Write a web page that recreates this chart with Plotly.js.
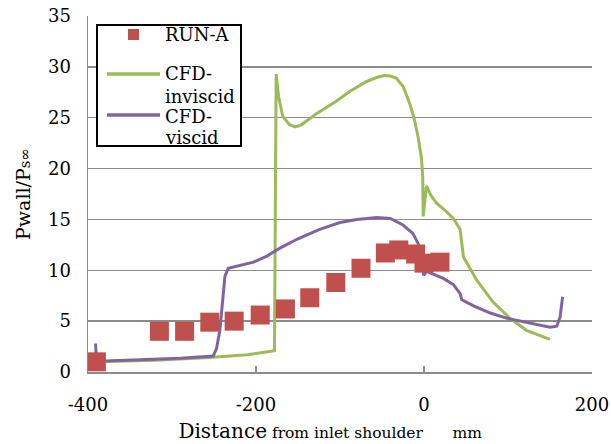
<!DOCTYPE html>
<html><head><meta charset="utf-8">
<script src="https://cdn.plot.ly/plotly-3.0.1.min.js"></script>
<style>html,body{margin:0;padding:0;background:#fff}</style>
</head><body><div id="chart" style="width:611px;height:444px"></div>
<script>
// RUN-A measured points
const runA_x = [-390, -315, -285, -255, -226, -195, -165, -136, -105, -75, -46, -30, -10, 0, 19];
const runA_y = [1.0, 4.0, 4.0, 4.9, 5.0, 5.6, 6.2, 7.3, 8.8, 10.2, 11.7, 12.0, 11.6, 10.7, 10.8];

// CFD inviscid
const inv_x = [-390, -320, -260, -210, -178, -176, -173, -168, -160, -153, -146, -128, -105, -88, -70, -55, -47, -40, -33, -25, -17, -12, -7, -3, -1.5, -1, 3, 8, 15, 25, 35, 43, 47, 55, 63, 82, 102, 122, 150];
const inv_y = [1.0, 1.15, 1.4, 1.7, 2.1, 29.3, 27.0, 25.1, 24.3, 24.1, 24.3, 25.4, 26.6, 27.6, 28.5, 29.0, 29.15, 29.1, 28.9, 28.1, 26.4, 25.0, 23.1, 21.0, 19.2, 15.3, 18.3, 17.4, 16.6, 15.9, 15.1, 14.0, 11.3, 10.2, 9.0, 6.9, 5.3, 4.1, 3.2];

// CFD viscid
const vis_x = [-391, -390, -379, -290, -251, -247, -243, -240, -237, -233, -219, -203, -187, -171, -150, -125, -100, -80, -56, -40, -25, -13, -5, -1.5, -0.5, 3, 23, 35, 43, 45, 59, 79, 98, 122, 150, 158, 162, 165];
const vis_y = [2.8, 1.1, 1.08, 1.35, 1.57, 2.3, 4.1, 6.75, 9.4, 10.2, 10.45, 10.8, 11.4, 12.2, 13.1, 14.0, 14.7, 15.0, 15.2, 15.1, 14.45, 13.6, 12.3, 11.0, 9.5, 9.9, 9.2, 8.6, 7.7, 7.1, 6.5, 5.8, 5.3, 4.85, 4.4, 4.5, 5.4, 7.4];

const xTickVals = [-400, -200, 0, 200];
const xTickText = ['-400', '-200', '0', '200'];
const seriesNames = ['RUN-A', 'CFD-inviscid', 'CFD-viscid'];

const FONT = 'DejaVu Serif';
const RED = '#C0504D', GREEN = '#9BBB59', PURPLE = '#8064A2', GRID = '#8C8C8C';

const traces = [
  {x: inv_x, y: inv_y, name: seriesNames[1], type: 'scatter', mode: 'lines',
   line: {color: GREEN, width: 3}},
  {x: vis_x, y: vis_y, name: seriesNames[2], type: 'scatter', mode: 'lines',
   line: {color: PURPLE, width: 3}},
  {x: runA_x, y: runA_y, name: seriesNames[0], type: 'scatter', mode: 'markers',
   marker: {symbol: 'square', size: 19, color: RED}}
];

// legend drawn in paper coordinates
function px(p){ return (p - 88) / 504; }
function py(p){ return (372 - p) / 356; }

const shapes = [
  {type: 'rect', xref: 'paper', yref: 'paper', x0: px(97), x1: px(241), y0: py(146), y1: py(25),
   line: {color: '#000', width: 2}, fillcolor: '#fff', layer: 'above'},
  {type: 'rect', xref: 'paper', yref: 'paper', x0: px(128), x1: px(139), y0: py(40), y1: py(29),
   line: {width: 0}, fillcolor: RED, layer: 'above'},
  {type: 'line', xref: 'paper', yref: 'paper', x0: px(107), x1: px(160), y0: py(74), y1: py(74),
   line: {color: GREEN, width: 3.5}, layer: 'above'},
  {type: 'line', xref: 'paper', yref: 'paper', x0: px(107), x1: px(160), y0: py(115), y1: py(115),
   line: {color: PURPLE, width: 3.5}, layer: 'above'}
];
const legLines = [['RUN-A', 34], ['CFD-', 74], ['inviscid', 96], ['CFD-', 116], ['viscid', 137]];
const annotations = legLines.map(l => ({
  xref: 'paper', yref: 'paper', x: px(163), y: py(l[1]), xanchor: 'left', yanchor: 'middle',
  text: l[0], showarrow: false, font: {family: FONT, size: 18, color: '#000'}
}));

const layout = {
  width: 611, height: 444,
  margin: {l: 88, r: 19, t: 16, b: 72},
  paper_bgcolor: '#fff', plot_bgcolor: '#fff',
  showlegend: false,
  font: {family: FONT, size: 18, color: '#000'},
  xaxis: {
    range: [-400, 200], tickvals: xTickVals, ticktext: xTickText,
    ticks: 'inside', ticklen: 6, tickwidth: 1.5, tickcolor: GRID,
    showline: true, linecolor: GRID, linewidth: 1.5,
    showgrid: false, zeroline: false, fixedrange: true,
    ticklabelstandoff: 16,
    tickfont: {family: FONT, size: 18, color: '#000'},
    title: {text: 'Distance<span style="font-size:15.5px"> from inlet shoulder\u00a0\u00a0\u00a0\u00a0\u00a0\u00a0mm\u00a0\u00a0\u00a0\u00a0</span>',
            font: {family: FONT, size: 20, color: '#000'}, standoff: 10}
  },
  yaxis: {
    range: [0, 35], dtick: 5, ticks: '',
    showline: true, linecolor: GRID, linewidth: 1.5,
    showgrid: true, gridcolor: GRID, gridwidth: 1.5,
    zeroline: false, fixedrange: true,
    ticklabelstandoff: 12,
    tickfont: {family: FONT, size: 18, color: '#000'},
    title: {text: 'Pwall/P<span style="font-size:15px">s\u221e</span>',
            font: {family: FONT, size: 19, color: '#000'}, standoff: 12}
  },
  shapes: shapes,
  annotations: annotations
};

Plotly.newPlot('chart', traces, layout, {displayModeBar: false, staticPlot: true});
</script></body></html>
